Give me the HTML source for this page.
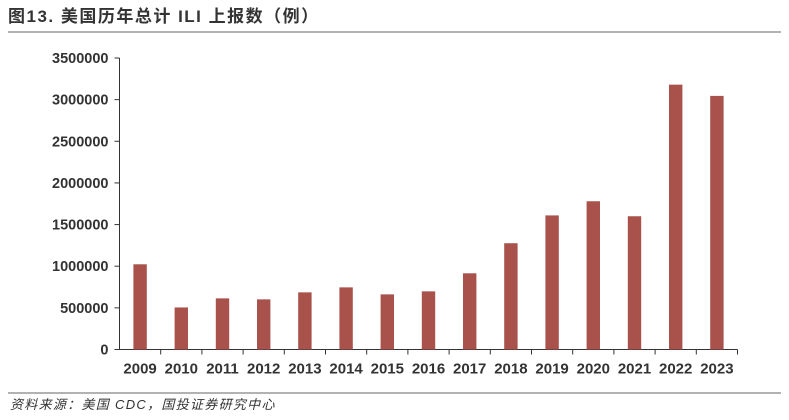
<!DOCTYPE html>
<html><head><meta charset="utf-8"><style>
body{margin:0;background:#fff;width:789px;height:415px;overflow:hidden;font-family:"Liberation Sans","Noto Sans CJK SC",sans-serif}
</style></head><body>
<svg width="789" height="415" xmlns="http://www.w3.org/2000/svg">
<text x="8" y="22" font-size="17" font-weight="bold" letter-spacing="1.5" fill="#333" font-family="Liberation Sans, Noto Sans CJK SC, sans-serif">图13. 美国历年总计 ILI 上报数（例）</text>
<line x1="8" y1="32" x2="781" y2="32" stroke="#666" stroke-width="1"/>
<g id="plot"></g>
<line x1="8" y1="393" x2="781" y2="393" stroke="#666" stroke-width="1"/>
<text x="10" y="409" font-size="13" font-style="italic" letter-spacing="1.3" fill="#333" font-family="Liberation Sans, Noto Sans CJK SC, sans-serif">资料来源：美国 CDC，国投证券研究中心</text>
</svg>
<script>
const categories=["2009","2010","2011","2012","2013","2014","2015","2016","2017","2018","2019","2020","2021","2022","2023"];
const values=[1023000,505000,614000,602000,686000,746000,662000,698000,915000,1276000,1610000,1780000,1600000,3180000,3045000];
const yTicks=[0,500000,1000000,1500000,2000000,2500000,3000000,3500000];
const NS="http://www.w3.org/2000/svg";
const g=document.getElementById("plot");
const x0=119.5,cw=41.2,y0=349.5,yTop=58;
const yMax=3500000;
function y(v){return y0-(v/yMax)*(y0-yTop);}
function xc(i){return x0+cw*(i+0.5);}
function mk(t,a){const e=document.createElementNS(NS,t);for(const k in a)e.setAttribute(k,a[k]);g.appendChild(e);return e;}
let ax=mk("line",{x1:x0,y1:yTop,x2:x0,y2:y0,stroke:"#333","stroke-width":1});


yTicks.forEach(v=>{
  const t=mk("line",{x1:x0-5,y1:y(v),x2:x0,y2:y(v),stroke:"#333"});
  
  
  const l=mk("text",{x:x0-11,y:y(v)+5,"text-anchor":"end","font-size":"14.5","font-weight":"bold",fill:"#333"});
  l.textContent=String(v);
  
  
});
let xa=mk("line",{x1:x0,y1:y0,x2:x0+cw*categories.length,y2:y0,stroke:"#333"});


categories.forEach((c,i)=>{
  const tk=mk("line",{x1:x0+cw*(i+1),y1:y0,x2:x0+cw*(i+1),y2:y0+5,stroke:"#333"});
  
  
  const b=mk("rect",{x:xc(i)-6.7,y:y(values[i]),width:13.4,height:y0-y(values[i]),fill:"#a9514b"});
  
  
  const l=mk("text",{x:xc(i),y:y0+24,"text-anchor":"middle","font-size":"15","font-weight":"bold",fill:"#333"});
  l.textContent=c;
  
  
});
</script>
</body></html>
